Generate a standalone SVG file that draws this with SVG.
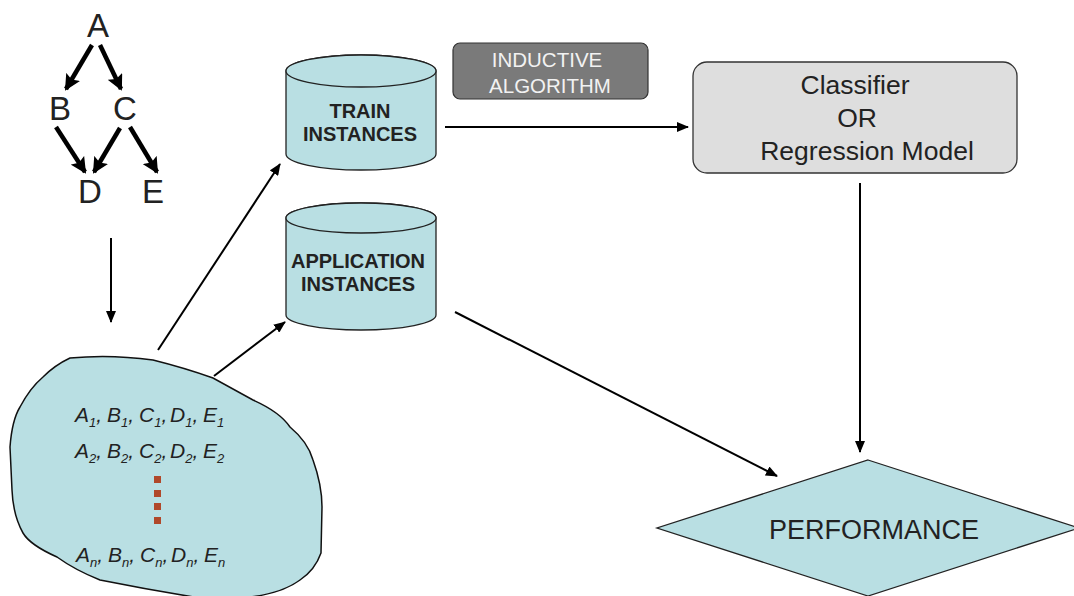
<svg xmlns="http://www.w3.org/2000/svg" width="1074" height="596" viewBox="0 0 1074 596">
<defs>
<style>
.t{font-family:"Liberation Sans",Arial,sans-serif;fill:#222}
.cyl{fill:#b9dfe3;stroke:#222;stroke-width:1.3}
.thin{stroke:#000;stroke-width:2;fill:none}
.thick{stroke:#000;stroke-width:4.5;fill:none}
.it{font-family:"Liberation Sans",Arial,sans-serif;font-style:italic;font-size:21px;fill:#222}
.sub{font-size:13px}
</style>
<marker id="ah" markerUnits="userSpaceOnUse" markerWidth="12" markerHeight="10" refX="11" refY="5" orient="auto">
<path d="M0,0 L12,5 L0,10 Z" fill="#000"/>
</marker>
<marker id="ahb" markerUnits="userSpaceOnUse" markerWidth="16" markerHeight="16" refX="14" refY="8" orient="auto">
<path d="M0,0 L16,8 L0,16 L3,8 Z" fill="#000"/>
</marker>
</defs>
<rect width="1074" height="596" fill="#fff"/>

<g id="tree">
<text class="t" x="98" y="37" font-size="33" text-anchor="middle">A</text>
<text class="t" x="60" y="120" font-size="33" text-anchor="middle">B</text>
<text class="t" x="125" y="120" font-size="33" text-anchor="middle">C</text>
<text class="t" x="90" y="203" font-size="33" text-anchor="middle">D</text>
<text class="t" x="153" y="203" font-size="33" text-anchor="middle">E</text>
</g>

<g id="blob">
<path d="M70,358 Q110,354 153,360 Q185,368 213,378 Q235,390 253,400 Q280,412 290,427 Q308,442 313,460 Q322,485 322,507 L321,553 Q315,570 300,580 Q280,595 240,598 L200,598 Q150,590 100,580 Q75,570 57,557 Q30,545 23,533 Q13,515 12,490 L10,447 Q12,420 20,407 Q30,388 43,377 Q55,365 70,358 Z" fill="#b9dfe3" stroke="#111" stroke-width="1.5"/>
<text class="it" y="422"><tspan x="75">A</tspan><tspan class="sub" dy="5">1</tspan><tspan dy="-5">,</tspan><tspan x="107">B</tspan><tspan class="sub" dy="5">1</tspan><tspan dy="-5">,</tspan><tspan x="139">C</tspan><tspan class="sub" dy="5">1</tspan><tspan dy="-5">,</tspan><tspan x="170">D</tspan><tspan class="sub" dy="5">1</tspan><tspan dy="-5">,</tspan><tspan x="203">E</tspan><tspan class="sub" dy="5">1</tspan></text>
<text class="it" y="458"><tspan x="75">A</tspan><tspan class="sub" dy="5">2</tspan><tspan dy="-5">,</tspan><tspan x="107">B</tspan><tspan class="sub" dy="5">2</tspan><tspan dy="-5">,</tspan><tspan x="139">C</tspan><tspan class="sub" dy="5">2</tspan><tspan dy="-5">,</tspan><tspan x="170">D</tspan><tspan class="sub" dy="5">2</tspan><tspan dy="-5">,</tspan><tspan x="203">E</tspan><tspan class="sub" dy="5">2</tspan></text>
<text class="it" y="562"><tspan x="76">A</tspan><tspan class="sub" dy="5">n</tspan><tspan dy="-5">,</tspan><tspan x="108">B</tspan><tspan class="sub" dy="5">n</tspan><tspan dy="-5">,</tspan><tspan x="140">C</tspan><tspan class="sub" dy="5">n</tspan><tspan dy="-5">,</tspan><tspan x="171">D</tspan><tspan class="sub" dy="5">n</tspan><tspan dy="-5">,</tspan><tspan x="204">E</tspan><tspan class="sub" dy="5">n</tspan></text>
<g fill="#b0482a">
<rect x="154" y="476" width="7" height="7"/>
<rect x="154" y="490" width="7" height="7"/>
<rect x="154" y="503" width="7" height="7"/>
<rect x="154" y="517" width="7" height="7"/>
</g>
</g>

<g id="train">
<path class="cyl" d="M286,71 L286,154 A75,16 0 0 0 436,154 L436,71 A75,16 0 0 0 286,71 Z"/>
<ellipse class="cyl" cx="361" cy="71" rx="75" ry="16"/>
<text class="t" x="360" y="118" font-size="20" font-weight="bold" text-anchor="middle">TRAIN</text>
<text class="t" x="360" y="141" font-size="20" font-weight="bold" text-anchor="middle">INSTANCES</text>
</g>

<g id="application">
<path class="cyl" d="M286,218 L286,315 A75,15 0 0 0 436,315 L436,218 A75,15 0 0 0 286,218 Z"/>
<ellipse class="cyl" cx="361" cy="218" rx="75" ry="15"/>
<text class="t" x="358" y="268" font-size="20" font-weight="bold" text-anchor="middle">APPLICATION</text>
<text class="t" x="358" y="291" font-size="20" font-weight="bold" text-anchor="middle">INSTANCES</text>
</g>

<g id="inductive">
<rect x="453" y="43" width="195" height="56" rx="7" fill="#7a7a7a" stroke="#333" stroke-width="1.2"/>
<text x="547" y="67" font-family="Liberation Sans,Arial,sans-serif" font-size="20.5" fill="#f2f2f2" text-anchor="middle">INDUCTIVE</text>
<text x="550" y="93" font-family="Liberation Sans,Arial,sans-serif" font-size="20.5" fill="#f2f2f2" text-anchor="middle">ALGORITHM</text>
</g>

<g id="classifier">
<rect x="693" y="62" width="324" height="111" rx="14" fill="#dedede" stroke="#333" stroke-width="1.3"/>
<text class="t" x="855" y="94" font-size="26.5" text-anchor="middle">Classifier</text>
<text class="t" x="857" y="127" font-size="26.5" text-anchor="middle">OR</text>
<text class="t" x="867" y="160" font-size="26.5" text-anchor="middle">Regression Model</text>
</g>

<g id="performance">
<polygon points="868,460 1079,528 868,596 657,528" fill="#b9dfe3" stroke="#222" stroke-width="1.3"/>
<text class="t" x="874" y="539" font-size="27" text-anchor="middle">PERFORMANCE</text>
</g>

<g id="connectors">
<line class="thick" x1="92" y1="45" x2="66" y2="89" marker-end="url(#ahb)"/>
<line class="thick" x1="100" y1="45" x2="121" y2="89" marker-end="url(#ahb)"/>
<line class="thick" x1="56" y1="127" x2="85" y2="172" marker-end="url(#ahb)"/>
<line class="thick" x1="120" y1="128" x2="94" y2="172" marker-end="url(#ahb)"/>
<line class="thick" x1="130" y1="127" x2="157" y2="172" marker-end="url(#ahb)"/>
<line class="thin" x1="111" y1="238" x2="111" y2="322" marker-end="url(#ah)"/>
<line class="thin" x1="158" y1="350" x2="280" y2="164" marker-end="url(#ah)"/>
<line class="thin" x1="214" y1="376" x2="285" y2="322" marker-end="url(#ah)"/>
<line class="thin" x1="445" y1="127" x2="688" y2="127" marker-end="url(#ah)"/>
<line class="thin" x1="860" y1="183" x2="860" y2="452" marker-end="url(#ah)"/>
<line class="thin" x1="455" y1="312" x2="777" y2="476" marker-end="url(#ah)"/>
</g>
</svg>
